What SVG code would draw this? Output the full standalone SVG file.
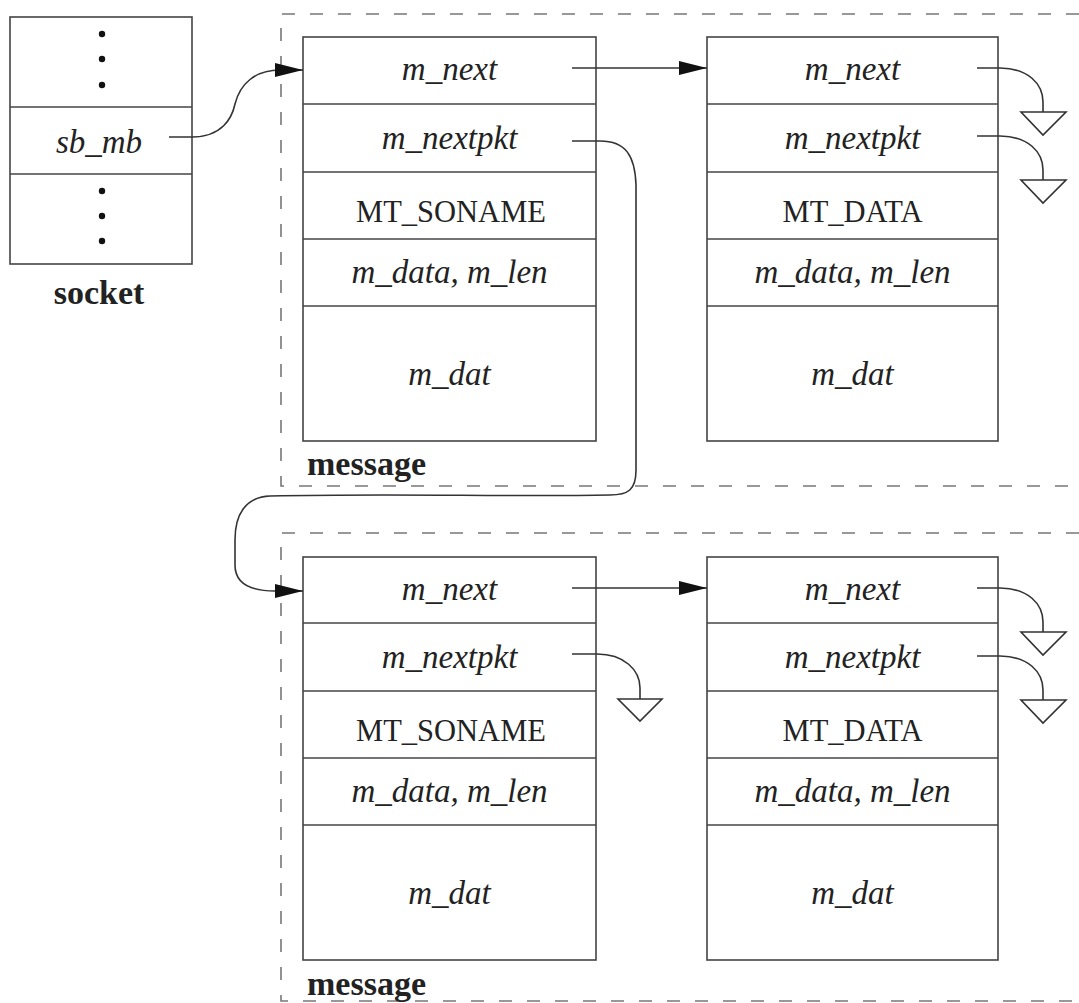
<svg xmlns="http://www.w3.org/2000/svg" width="1079" height="1003" viewBox="0 0 1079 1003">
<defs>
<style>
.bg{fill:#fff}
.box{fill:none;stroke:#444;stroke-width:1.6}
.div{stroke:#444;stroke-width:1.6}
.dash{fill:none;stroke:#777;stroke-width:1.6;stroke-dasharray:13 15}
.t{font-family:"Liberation Serif","Times New Roman",serif;font-size:30.5px;fill:#222;text-anchor:middle}
.i{font-style:italic;font-size:33px}
.b{font-weight:bold;font-size:34px}
.c{fill:none;stroke:#333;stroke-width:1.6}
.g{fill:#fff;stroke:#333;stroke-width:1.6}
</style>
<marker id="ah" markerUnits="userSpaceOnUse" markerWidth="30" markerHeight="16" refX="28" refY="7" orient="auto">
<path d="M0,0 L28,7 L0,14 Z" fill="#111"/>
</marker>
</defs>
<rect class="bg" x="0" y="0" width="1079" height="1003"/>

<g id="socket">
<rect class="box" x="10" y="17" width="182" height="247"/>
<line class="div" x1="10" y1="107" x2="192" y2="107"/>
<line class="div" x1="10" y1="174" x2="192" y2="174"/>
<circle cx="102" cy="34" r="3.2" fill="#111"/>
<circle cx="102" cy="59" r="3.2" fill="#111"/>
<circle cx="102" cy="85" r="3.2" fill="#111"/>
<circle cx="102" cy="191" r="3.2" fill="#111"/>
<circle cx="102" cy="216" r="3.2" fill="#111"/>
<circle cx="102" cy="241" r="3.2" fill="#111"/>
<text class="t i" x="99" y="153">sb_mb</text>
<text class="t b" x="99" y="304">socket</text>
</g>

<g id="message1">
<path class="dash" d="M1079,14 L281,14 L281,486 L1079,486"/>
<text class="t b" x="307" y="475" style="text-anchor:start">message</text>
</g>

<g id="message2">
<path class="dash" d="M1079,533 L281,533 L281,1001 L1079,1001"/>
<text class="t b" x="307" y="995" style="text-anchor:start">message</text>
</g>

<g id="mbuf1">
<rect class="box" x="303" y="37" width="293" height="404"/>
<line class="div" x1="303" y1="104" x2="596" y2="104"/>
<line class="div" x1="303" y1="172" x2="596" y2="172"/>
<line class="div" x1="303" y1="239" x2="596" y2="239"/>
<line class="div" x1="303" y1="306" x2="596" y2="306"/>
<text class="t i" x="449.5" y="80">m_next</text>
<text class="t i" x="449.5" y="149">m_nextpkt</text>
<text class="t" x="451" y="222">MT_SONAME</text>
<text class="t i" x="449.5" y="283">m_data, m_len</text>
<text class="t i" x="449.5" y="385">m_dat</text>
</g>

<g id="mbuf2">
<rect class="box" x="707" y="37" width="291" height="404"/>
<line class="div" x1="707" y1="104" x2="998" y2="104"/>
<line class="div" x1="707" y1="172" x2="998" y2="172"/>
<line class="div" x1="707" y1="239" x2="998" y2="239"/>
<line class="div" x1="707" y1="306" x2="998" y2="306"/>
<text class="t i" x="852.5" y="80">m_next</text>
<text class="t i" x="852.5" y="149">m_nextpkt</text>
<text class="t" x="852.5" y="222">MT_DATA</text>
<text class="t i" x="852.5" y="283">m_data, m_len</text>
<text class="t i" x="852.5" y="385">m_dat</text>
</g>

<g id="mbuf3">
<rect class="box" x="303" y="557" width="293" height="403"/>
<line class="div" x1="303" y1="623" x2="596" y2="623"/>
<line class="div" x1="303" y1="691" x2="596" y2="691"/>
<line class="div" x1="303" y1="758" x2="596" y2="758"/>
<line class="div" x1="303" y1="825" x2="596" y2="825"/>
<text class="t i" x="449.5" y="600">m_next</text>
<text class="t i" x="449.5" y="668">m_nextpkt</text>
<text class="t" x="451" y="741">MT_SONAME</text>
<text class="t i" x="449.5" y="802">m_data, m_len</text>
<text class="t i" x="449.5" y="904">m_dat</text>
</g>

<g id="mbuf4">
<rect class="box" x="707" y="557" width="291" height="403"/>
<line class="div" x1="707" y1="623" x2="998" y2="623"/>
<line class="div" x1="707" y1="691" x2="998" y2="691"/>
<line class="div" x1="707" y1="758" x2="998" y2="758"/>
<line class="div" x1="707" y1="825" x2="998" y2="825"/>
<text class="t i" x="852.5" y="600">m_next</text>
<text class="t i" x="852.5" y="668">m_nextpkt</text>
<text class="t" x="852.5" y="741">MT_DATA</text>
<text class="t i" x="852.5" y="802">m_data, m_len</text>
<text class="t i" x="852.5" y="904">m_dat</text>
</g>

<g id="connectors">
<path class="c" d="M169,137 L192,137 C222,137 232,118 235,104 C240,84 255,70 280,70 L303,70" marker-end="url(#ah)"/>
<path class="c" d="M572,68 L707,68" marker-end="url(#ah)"/>
<path class="c" d="M572,141 L600,141 C626,141 635,156 636,185 L636,470 C636,490 628,495 610,495 C500,497 400,493 270,496 C245,497 235,515 235,540 L235,565 C235,582 248,591 275,591 L303,591" marker-end="url(#ah)"/>
<path class="c" d="M572,588 L707,588" marker-end="url(#ah)"/>

<path class="c" d="M977,68 L1000,68 C1028,68 1043,84 1043,102 L1043,112"/>
<polygon class="g" points="1021,112 1066,112 1043,135"/>
<path class="c" d="M977,136 L1000,136 C1028,136 1043,152 1043,170 L1043,180"/>
<polygon class="g" points="1021,180 1066,180 1043,203"/>

<path class="c" d="M572,654 L597,654 C624,654 640,670 640,688 L640,699"/>
<polygon class="g" points="618,699 662,699 640,721"/>

<path class="c" d="M977,588 L1000,588 C1028,588 1043,604 1043,622 L1043,632"/>
<polygon class="g" points="1021,632 1066,632 1043,655"/>
<path class="c" d="M977,656 L1000,656 C1028,656 1043,672 1043,690 L1043,700"/>
<polygon class="g" points="1021,700 1066,700 1043,723"/>
</g>
</svg>
